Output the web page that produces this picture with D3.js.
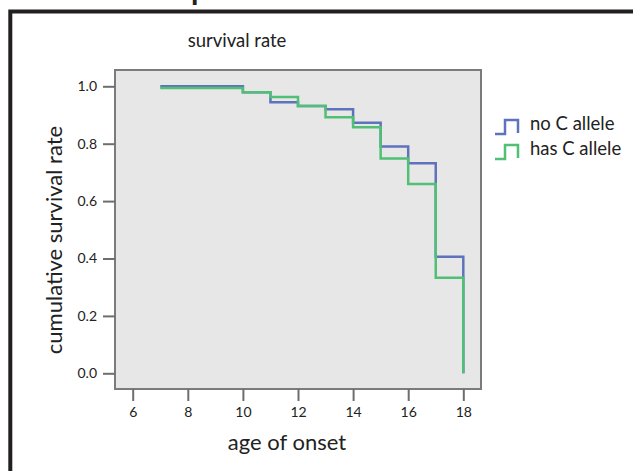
<!DOCTYPE html>
<html>
<head>
<meta charset="utf-8">
<script src="https://cdn.jsdelivr.net/npm/d3@7"></script>
<style>
  body { margin: 0; background: #fff; }
  text { font-family: Lato, 'Open Sans', sans-serif; fill: #222; }
</style>
</head>
<body>
<script>
// data
const ages      = [7, 10, 11, 12, 13, 14, 15, 16, 17, 18];
const noCAllele = [1.0, 0.979, 0.944, 0.931, 0.92, 0.873, 0.79, 0.732, 0.406, 0.0];
const hasCAllele = [0.994, 0.979, 0.963, 0.931, 0.892, 0.857, 0.748, 0.66, 0.333, 0.0];
const xTicks = [6, 8, 10, 12, 14, 16, 18];
const yTicks = [0, 0.2, 0.4, 0.6, 0.8, 1.0];
const seriesNames = ['no C allele', 'has C allele'];
const seriesColors = ['#5f73bd', '#4fc074'];

const width = 633, height = 471;

const svg = d3.select('body').append('svg')
    .attr('width', width)
    .attr('height', height);

// outer frame (runs off right/bottom of the picture)
svg.append('rect')
    .attr('x', 10.3).attr('y', 11.5)
    .attr('width', 700).attr('height', 600)
    .attr('fill', 'none')
    .attr('stroke', '#231f20')
    .attr('stroke-width', 4);

// fragment of heading above the frame
svg.append('text')
    .attr('x', 191).attr('y', 0)
    .style('font-size', '30px')
    .style('font-weight', 'bold')
    .text('p');

const plot = {left: 115, top: 70, right: 481, bottom: 389};

const x = d3.scaleLinear()
    .domain([6, 18])
    .range([132.7, 463.3]);

const y = d3.scaleLinear()
    .domain([0, 1])
    .range([373.3, 86.3]);

svg.append('rect')
    .attr('x', plot.left).attr('y', plot.top)
    .attr('width', plot.right - plot.left)
    .attr('height', plot.bottom - plot.top)
    .attr('fill', '#e7e7e7')
    .attr('stroke', '#7b7b7b')
    .attr('stroke-width', 2);

// axes
const xAxis = svg.append('g')
    .attr('transform', 'translate(0,' + plot.bottom + ')')
    .call(d3.axisBottom(x).tickValues(xTicks).tickSize(12).tickPadding(6).tickFormat(d3.format('d')));
xAxis.select('.domain').remove();

const yAxis = svg.append('g')
    .attr('transform', 'translate(' + plot.left + ',0)')
    .call(d3.axisLeft(y).tickValues(yTicks).tickSize(12).tickPadding(6).tickFormat(d3.format('.1f')));
yAxis.select('.domain').remove();

svg.selectAll('.tick line')
    .attr('stroke', '#6e6e6e')
    .attr('stroke-width', 2);
svg.selectAll('.tick text')
    .style('font-size', '14px')
    .style('font-family', 'Lato, sans-serif')
    .attr('fill', '#333');

// curves
const step = d3.line()
    .x(function(d) { return x(d[0]); })
    .y(function(d) { return y(d[1]); })
    .curve(d3.curveStepAfter);

[noCAllele, hasCAllele].forEach(function(vals, i) {
  svg.append('path')
      .datum(ages.map(function(a, j) { return [a, vals[j]]; }))
      .attr('d', step)
      .attr('fill', 'none')
      .attr('stroke', seriesColors[i])
      .attr('stroke-width', 2.5);
});

// titles
svg.append('text')
    .attr('x', 237).attr('y', 47)
    .attr('text-anchor', 'middle')
    .style('font-size', '18.5px')
    .text('survival rate');

svg.append('text')
    .attr('transform', 'translate(62,240) rotate(-90)')
    .attr('text-anchor', 'middle')
    .style('font-size', '22px')
    .text('cumulative survival rate');

svg.append('text')
    .attr('x', 287).attr('y', 450)
    .attr('text-anchor', 'middle')
    .style('font-size', '22px')
    .text('age of onset');

// legend
const legend = svg.selectAll('.legend')
    .data(seriesNames)
  .enter().append('g')
    .attr('class', 'legend')
    .attr('transform', function(d, i) { return 'translate(495,' + (134 + i * 25) + ')'; });

legend.append('path')
    .attr('d', 'M0 0 H10 V-14 H23 V-1')
    .attr('fill', 'none')
    .attr('stroke', function(d, i) { return seriesColors[i]; })
    .attr('stroke-width', 2.5);

legend.append('text')
    .attr('x', 35).attr('y', -4)
    .style('font-size', '18.5px')
    .text(function(d) { return d; });
</script>
</body>
</html>
